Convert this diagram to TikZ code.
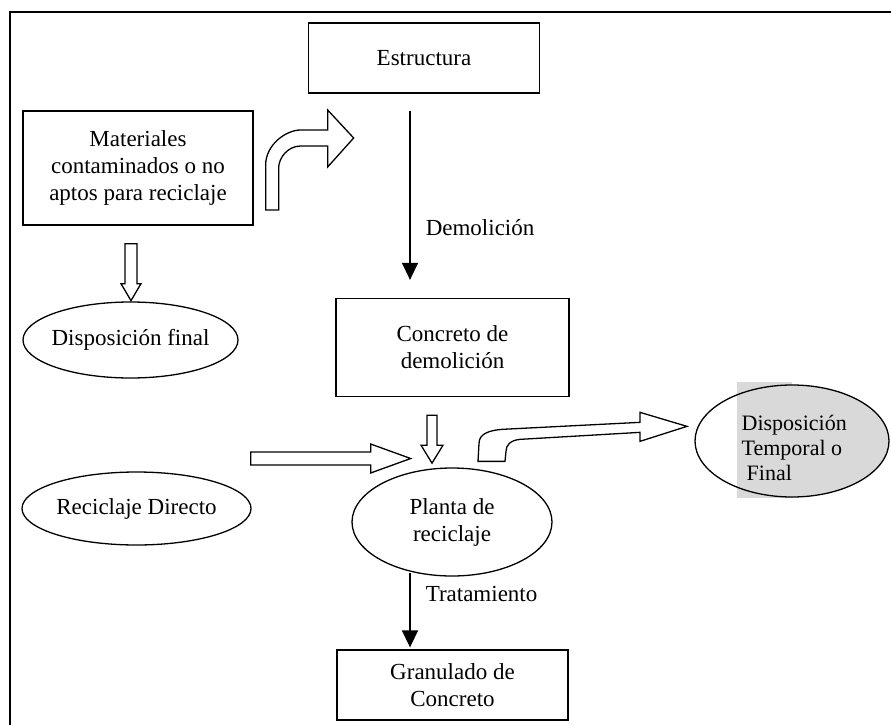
\documentclass[tikz,border=0pt]{standalone}
\usepackage{fontspec}
\setmainfont{Liberation Serif}
\usetikzlibrary{shapes.geometric,arrows.meta,calc}

\begin{document}
\begin{tikzpicture}[x=1pt, y=-1pt, line width=1.3pt,
    every node/.style={font=\fontsize{23}{27}\selectfont, align=center, inner sep=0pt},
    box/.style={draw, rectangle, minimum width=231pt, minimum height=70pt},
    oval/.style={draw, ellipse},
    hollow/.style={draw, fill=white, line join=miter},
    flecha/.style={line width=1.5pt, -{Triangle[length=17pt, width=16pt]}}]
      \useasboundingbox (0,0) rectangle (891,725);
      \draw[line width=1.8pt] (10,725) -- (10,12) -- (891,12);

      \node[box] (estr) at (424,58) {Estructura};
      \node[box, minimum width=230pt, minimum height=114pt] (mat) at (138,168) {Materiales\\contaminados o no\\aptos para reciclaje};
      \node[box, minimum width=233pt, minimum height=98pt] (conc) at (452.5,347.5) {Concreto de\\demolición};
      \node[oval, inner xsep=-6pt, minimum width=215pt, minimum height=76pt] (dfin) at (130.5,340) {Disposición final};
      \node[oval, minimum width=229pt, minimum height=73pt] (rdir) at (136.5,508.5) {Reciclaje Directo};
      \node[oval, minimum width=200pt, minimum height=108pt] (planta) at (452,522) {Planta de\\reciclaje};
      \node[box] (gran) at (452.5,685) {Granulado de\\Concreto};

      \begin{scope}
        \clip (737,380) rectangle (891,500);
        \fill[black!15] (792,441) ellipse [x radius=97pt, y radius=56pt];
      \end{scope}
      \fill[black!15] (737,382) rectangle (792,498);
      \node[oval, minimum width=194pt, minimum height=112pt] (dtemp) at (792,441) {};
      \node[font=\fontsize{22}{25}\selectfont, align=left, anchor=west] (dtext) at (741,448) {Disposición\\Temporal o\\\hspace*{5pt}Final};

      \draw[flecha] ($(estr.south)+(-14,17)$) -- ($(conc.north)+(-42.5,-18)$) node[pos=0.69, anchor=west, xshift=15pt] (dem) {Demolición};
      \draw[flecha] ($(planta.south)+(-42,-4)$) -- ($(gran.north)+(-42.5,-2)$) node[pos=0.28, anchor=west, xshift=15pt] (trat) {Tratamiento};

      \draw[hollow] ($(mat.south)+(-13,18)$) -- ++(12,0) -- ++(0,40) -- ++(4,0) -- ++(-10,17) -- ++(-10,-17) -- ++(4,0) -- cycle;
      \draw[hollow] ($(conc.south)+(-25.5,18)$) -- ++(10,0) -- ++(0,30) -- ++(6,0) -- ++(-11,18) -- ++(-11,-18) -- ++(6,0) -- cycle;
      \draw[hollow] ($(rdir.east)+(-1,-56.5)$) -- ++(120,0) -- ++(0,-8) -- ++(40,14.5) -- ++(-40,14.5) -- ++(0,-8) -- ++(-120,0) -- cycle;

      \coordinate (ua) at ($(mat.east)+(12,42)$);
      \draw[hollow] (ua) -- ++(0,-45) .. controls +(0,-20) and +(-15,0) .. ++(35,-35) -- ++(27,0) -- ++(0,-20) -- ++(26,28) -- ++(-26,29) -- ++(0,-21) -- ++(-27,0) .. controls +(-13,0) and +(0,-10) .. ++(-22,22) -- ++(0,42) -- cycle;

      \coordinate (lb) at ($(planta.north)+(26,-6)$);
      \draw[hollow] (lb) -- ++(1,-18) .. controls +(0,-10) and +(-12,1) .. ++(23,-14) -- ++(138,-7) -- ++(0,-10) -- ++(47,14) -- ++(-47,15) -- ++(0,-9) -- ++(-120,7) .. controls +(-10,1) and +(0,-6) .. ++(-14,12) -- ++(-1,10) -- cycle;
    \end{tikzpicture}
\end{document}
